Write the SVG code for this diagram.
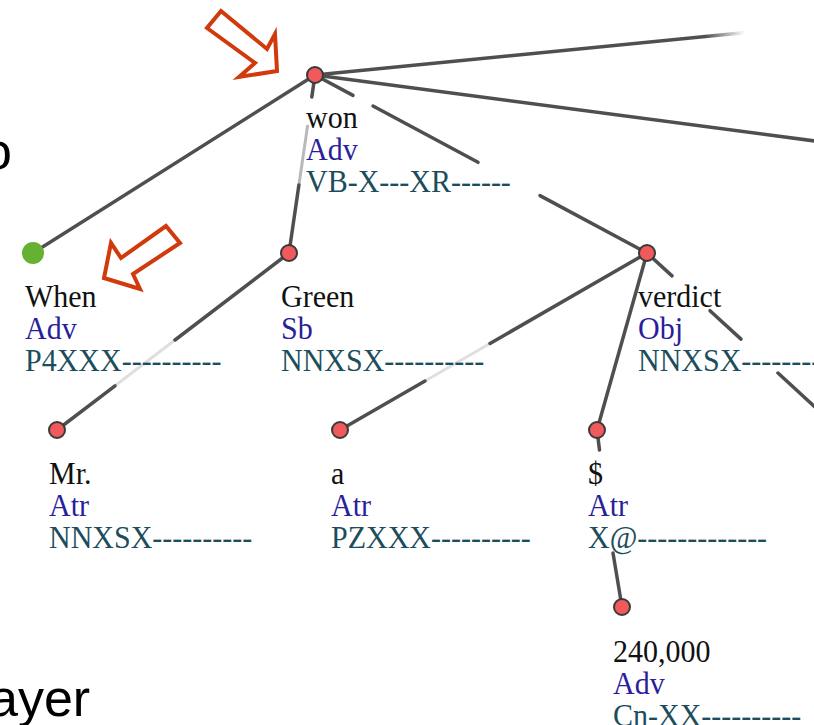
<svg xmlns="http://www.w3.org/2000/svg" width="814" height="725" viewBox="0 0 814 725">
<defs>
<style>
.ln{stroke:#4f4f4f;stroke-width:3.5;fill:none;stroke-linecap:round}
.fd{stroke:#4f4f4f;stroke-width:3;fill:none;opacity:0.18}
.fm{stroke:#4f4f4f;stroke-width:3;fill:none;opacity:0.4}
.nd{fill:#f05a5a;stroke:#3a3a3a;stroke-width:2}
.t{font-family:"Liberation Serif","Times New Roman",serif;font-size:30px}
.w{fill:#111111}
.f{fill:#2a1e9c}
.g{fill:#1c4d5c}
.ar{fill:#ffffff;stroke:#d03a0c;stroke-width:4;stroke-linejoin:miter}
.sans{font-family:"Liberation Sans",Arial,sans-serif;font-size:52px;fill:#000000}
</style>
<linearGradient id="fadeEnd" gradientUnits="userSpaceOnUse" x1="705" y1="0" x2="745" y2="0">
<stop offset="0" stop-color="#4f4f4f" stop-opacity="1"/>
<stop offset="1" stop-color="#4f4f4f" stop-opacity="0"/>
</linearGradient>
</defs>
<rect width="814" height="725" fill="#ffffff"/>

<text class="sans" x="-17" y="169">o</text>
<text class="sans" x="-11" y="716">ayer</text>

<g id="connectors">
<line x1="315" y1="75" x2="746" y2="32.5" style="stroke:url(#fadeEnd);stroke-width:3.5;fill:none"/>
<line class="ln" x1="315" y1="75" x2="830" y2="143"/>
<line class="ln" x1="315" y1="75" x2="33" y2="253"/>
<line class="ln" x1="315" y1="75" x2="311.8" y2="97"/>
<line class="fm" x1="307.7" y1="125" x2="298.9" y2="185"/>
<line class="ln" x1="298.9" y1="185" x2="289" y2="253"/>
<line class="ln" x1="315" y1="75" x2="353" y2="95.4"/>
<line class="ln" x1="373" y1="106" x2="478" y2="162.3"/>
<line class="ln" x1="540" y1="195.6" x2="647" y2="253"/>
<line class="ln" x1="289" y1="253" x2="175" y2="340"/>
<line class="fd" x1="175" y1="340" x2="115" y2="385.8"/>
<line class="ln" x1="115" y1="385.8" x2="57" y2="430"/>
<line class="ln" x1="647" y1="253" x2="490" y2="343.5"/>
<line class="fd" x1="490" y1="343.5" x2="425" y2="381"/>
<line class="ln" x1="425" y1="381" x2="340" y2="430"/>
<line class="ln" x1="647" y1="253" x2="597" y2="430"/>
<line class="ln" x1="647" y1="253" x2="672" y2="275.9"/>
<line class="ln" x1="710" y1="310.7" x2="741" y2="339.1"/>
<line class="ln" x1="778" y1="373" x2="830" y2="420.7"/>
<line class="ln" x1="597" y1="430" x2="599.5" y2="450"/>
<line class="ln" x1="613" y1="553" x2="622" y2="607"/>
</g>

<g id="arrow-top">
<polygon class="ar" points="221,11 267,49 275,34 277,71 239,77 255,63 207,28"/>
</g>
<g id="arrow-when">
<polygon class="ar" points="166,226 121,258 111,243 104,278 140,289 133,274 180,243"/>
</g>

<g id="node-won">
<circle class="nd" cx="315" cy="75" r="8"/>
<text class="t w" transform="translate(306,128) scale(1,1.05)">won</text>
<text class="t f" transform="translate(306,160) scale(1,1.05)">Adv</text>
<text class="t g" transform="translate(306,192) scale(1,1.05)">VB-X---XR------</text>
</g>
<g id="node-when">
<circle cx="33" cy="253" r="11" fill="#66b032"/>
<text class="t w" transform="translate(25,307) scale(1,1.05)">When</text>
<text class="t f" transform="translate(25,339) scale(1,1.05)">Adv</text>
<text class="t g" transform="translate(25,371) scale(1,1.05)">P4XXX----------</text>
</g>
<g id="node-green">
<circle class="nd" cx="289" cy="253" r="8"/>
<text class="t w" transform="translate(281,307) scale(1,1.05)">Green</text>
<text class="t f" transform="translate(281,339) scale(1,1.05)">Sb</text>
<text class="t g" transform="translate(281,371) scale(1,1.05)">NNXSX----------</text>
</g>
<g id="node-verdict">
<circle class="nd" cx="647" cy="253" r="8"/>
<text class="t w" transform="translate(638,307) scale(1,1.05)">verdict</text>
<text class="t f" transform="translate(638,339) scale(1,1.05)">Obj</text>
<text class="t g" transform="translate(638,371) scale(1,1.05)">NNXSX----------</text>
</g>
<g id="node-mr">
<circle class="nd" cx="57" cy="430" r="8"/>
<text class="t w" transform="translate(49,484) scale(1,1.05)">Mr.</text>
<text class="t f" transform="translate(49,516) scale(1,1.05)">Atr</text>
<text class="t g" transform="translate(49,548) scale(1,1.05)">NNXSX----------</text>
</g>
<g id="node-a">
<circle class="nd" cx="340" cy="430" r="8"/>
<text class="t w" transform="translate(331,484) scale(1,1.05)">a</text>
<text class="t f" transform="translate(331,516) scale(1,1.05)">Atr</text>
<text class="t g" transform="translate(331,548) scale(1,1.05)">PZXXX----------</text>
</g>
<g id="node-dollar">
<circle class="nd" cx="597" cy="430" r="8"/>
<text class="t w" transform="translate(588,484) scale(1,1.05)">$</text>
<text class="t f" transform="translate(588,516) scale(1,1.05)">Atr</text>
<text class="t g" transform="translate(588,548) scale(1,1.05)">X@-------------</text>
</g>
<g id="node-240000">
<circle class="nd" cx="622" cy="607" r="8"/>
<text class="t w" transform="translate(613,662) scale(1,1.05)">240,000</text>
<text class="t f" transform="translate(613,694) scale(1,1.05)">Adv</text>
<text class="t g" transform="translate(613,726) scale(1,1.05)">Cn-XX----------</text>
</g>
</svg>
